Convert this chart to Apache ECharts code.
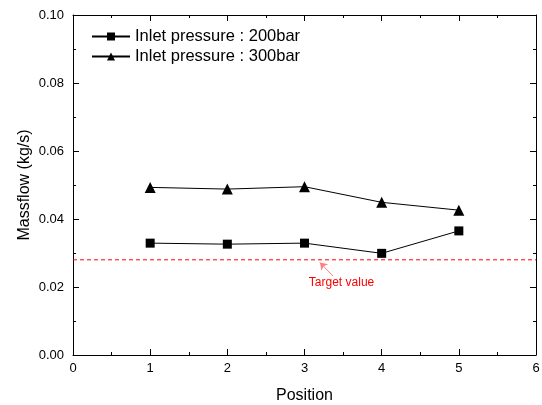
<!DOCTYPE html>
<html>
<head>
<meta charset="utf-8">
<script src="https://cdn.jsdelivr.net/npm/echarts@6/dist/echarts.min.js"></script>
<style>
  html, body { margin: 0; padding: 0; background: #fff; }
  #chart { width: 542px; height: 405px; }
</style>
</head>
<body>
<div id="chart"></div>
<script>
// 数据
const positions = [1, 2, 3, 4, 5];
const flow200 = [0.0329, 0.0326, 0.0329, 0.0299, 0.0365];
const flow300 = [0.0493, 0.0488, 0.0495, 0.0449, 0.0426];
const targetValue = 0.028;
const targetSpan = [0, 6];
const seriesNames = ['Inlet pressure : 200bar', 'Inlet pressure : 300bar'];

const font = 'Liberation Sans, Arial, sans-serif';

// 公共刻度样式 (刻度朝内, 有次刻度)
function axisCommon(showLabel, labelExtra) {
    return {
        axisLine: { show: true, onZero: false, lineStyle: { color: '#000', width: 1 } },
        axisTick: { show: true, inside: true, length: 6, lineStyle: { color: '#000' } },
        minorTick: { show: true, splitNumber: 2, length: 3, lineStyle: { color: '#000' } },
        splitLine: { show: false },
        axisLabel: Object.assign({
            show: showLabel,
            color: '#000',
            fontSize: 13,
            fontFamily: font
        }, labelExtra || {})
    };
}

const chart = echarts.init(document.querySelector('#chart'));
chart.setOption({
    animation: false,
    grid: { left: 73, right: 6, top: 15, bottom: 50, containLabel: false, outerBoundsMode: 'none' },
    legend: {
        orient: 'vertical',
        left: 91,
        top: 28,
        padding: 0,
        itemWidth: 38,
        itemHeight: 10,
        itemGap: 3,
        textStyle: { fontSize: 16.5, fontFamily: font, color: '#000' },
        data: seriesNames
    },
    xAxis: [
        Object.assign({
            type: 'value',
            min: 0,
            max: 6,
            interval: 1,
            name: 'Position',
            nameLocation: 'middle',
            nameMoveOverlap: false,
            nameGap: 33,
            nameTextStyle: { fontSize: 16, fontFamily: font, color: '#000' }
        }, axisCommon(true, { margin: 7 })),
        Object.assign({
            type: 'value',
            position: 'top',
            min: 0,
            max: 6,
            interval: 1
        }, axisCommon(false))
    ],
    yAxis: [
        Object.assign({
            type: 'value',
            min: 0,
            max: 0.1,
            interval: 0.02,
            name: 'Massflow (kg/s)',
            nameLocation: 'middle',
            nameMoveOverlap: false,
            nameGap: 40,
            nameTextStyle: { fontSize: 16, fontFamily: font, color: '#000' }
        }, axisCommon(true, { margin: 9, formatter: v => v.toFixed(2) })),
        Object.assign({
            type: 'value',
            position: 'right',
            min: 0,
            max: 0.1,
            interval: 0.02
        }, axisCommon(false))
    ],
    series: [
        {
            name: seriesNames[0],
            type: 'line',
            data: positions.map((p, i) => [p, flow200[i]]),
            symbol: 'rect',
            symbolSize: 9,
            itemStyle: { color: '#000' },
            lineStyle: { color: '#000', width: 1 }
        },
        {
            name: seriesNames[1],
            type: 'line',
            data: positions.map((p, i) => [p, flow300[i]]),
            symbol: 'triangle',
            symbolSize: 11,
            itemStyle: { color: '#000' },
            lineStyle: { color: '#000', width: 1 }
        },
        // 目标值虚线
        {
            name: 'Target',
            type: 'line',
            data: targetSpan.map(x => [x, targetValue]),
            symbol: 'none',
            silent: true,
            lineStyle: { color: '#ff0000', type: [4, 3], width: 1 },
            markLine: {
                silent: true,
                symbol: ['none', 'arrow'],
                symbolSize: 7,
                label: { show: false },
                lineStyle: { color: '#ff8080', type: 'solid', width: 1 },
                data: [[{ coord: [3.37, 0.0232] }, { coord: [3.2, 0.0272] }]]
            },
            markPoint: {
                silent: true,
                symbol: 'circle',
                symbolSize: 1,
                itemStyle: { color: 'rgba(0,0,0,0)' },
                label: {
                    show: true,
                    formatter: 'Target value',
                    color: '#ff0000',
                    fontSize: 12,
                    fontFamily: font,
                    position: 'inside'
                },
                data: [{ coord: [3.48, 0.0212] }]
            }
        }
    ]
});
</script>
</body>
</html>
